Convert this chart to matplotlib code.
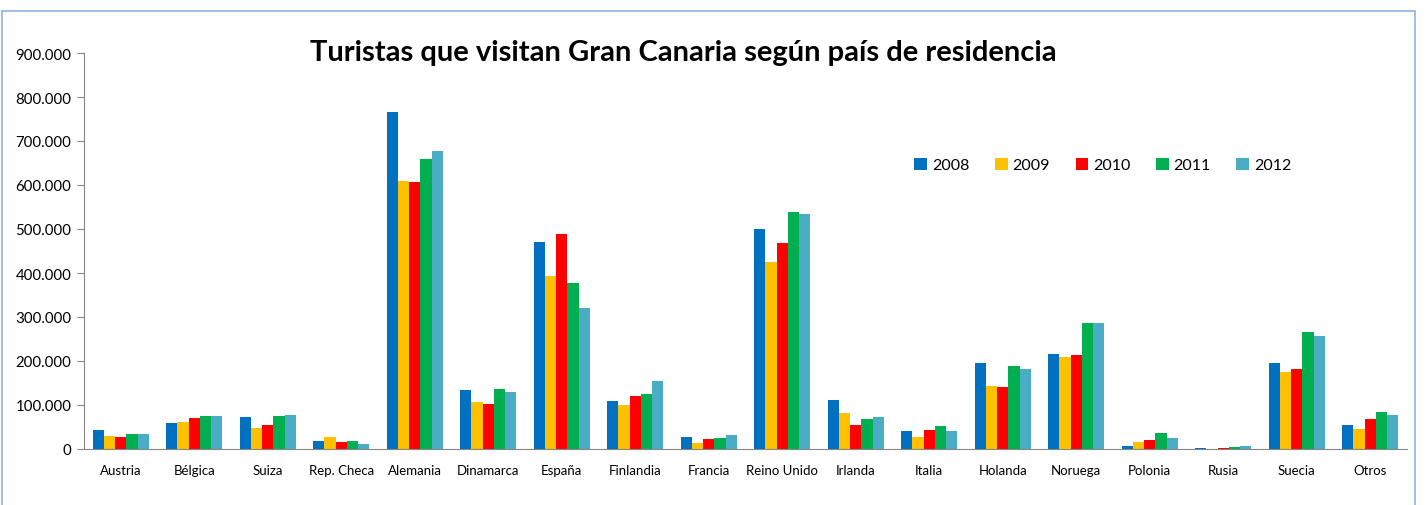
import numpy as np
import matplotlib.pyplot as plt
from matplotlib.ticker import FuncFormatter
from matplotlib.patches import Rectangle

paises = ["Austria", "Bélgica", "Suiza", "Rep. Checa", "Alemania", "Dinamarca",
          "España", "Finlandia", "Francia", "Reino Unido", "Irlanda", "Italia",
          "Holanda", "Noruega", "Polonia", "Rusia", "Suecia", "Otros"]
anios = ["2008", "2009", "2010", "2011", "2012"]

t2008 = [43000, 60000, 73000, 19000, 766000, 134000, 470000, 109000, 27000,
         501000, 111000, 42000, 196000, 216000, 6000, 2500, 196000, 55000]
t2009 = [30000, 61000, 47000, 27000, 609000, 107000, 393000, 101000, 14000,
         426000, 81000, 28000, 143000, 210000, 17000, 500, 174000, 45000]
t2010 = [27000, 71000, 55000, 16000, 607000, 103000, 489000, 120000, 23000,
         468000, 55000, 43000, 142000, 214000, 20000, 1500, 182000, 68000]
t2011 = [35000, 75000, 75000, 18000, 660000, 136000, 377000, 125000, 26000,
         539000, 68000, 53000, 189000, 286000, 36000, 5500, 267000, 83000]
t2012 = [35000, 75000, 77000, 12000, 678000, 130000, 320000, 155000, 31000,
         535000, 73000, 42000, 182000, 287000, 25000, 6500, 256000, 77000]

series = [t2008, t2009, t2010, t2011, t2012]
colores = ["#0070C0", "#FFC000", "#FF0000", "#00B050", "#4BACC6"]

plt.rcParams['font.family'] = ['Lato', 'DejaVu Sans']

fig = plt.figure(figsize=(14.27, 5.06), dpi=100)
W, H = 1427, 506
ax = fig.add_axes([84 / W, 1 - 450 / H, (1407 - 84) / W, (450 - 54) / H])

# marco del grafico
fig.patches.append(Rectangle((1.5 / W, -0.01), (1414.5 - 1.5) / W, 1 - 12 / H + 0.01,
                             transform=fig.transFigure, fill=False,
                             edgecolor="#8DB3E2", linewidth=1.2))

x = np.arange(len(paises))
bw = 0.153
for i, (anio, vals, c) in enumerate(zip(anios, series, colores)):
    ax.bar(x + (i - 2) * bw, vals, bw, color=c, label=anio, linewidth=0)

ax.set_xlim(-0.5, len(paises) - 0.5)
ax.set_ylim(0, 900000)
ax.set_yticks(np.arange(0, 900001, 100000))
ax.yaxis.set_major_formatter(FuncFormatter(lambda v, p: f"{int(v):,}".replace(",", ".")))
ax.set_xticks(x)
ax.set_xticklabels(paises, fontsize=9.5)
ax.tick_params(axis='x', length=0, pad=11)
ax.tick_params(axis='y', length=5, color="#868686", labelsize=10.8, pad=4)

for s in ["top", "right"]:
    ax.spines[s].set_visible(False)
ax.spines["left"].set_color("#868686")
ax.spines["bottom"].set_color("#868686")

fig.text(683 / W, 1 - 53 / H, "Turistas que visitan Gran Canaria según país de residencia",
         ha="center", va="center", fontsize=21, fontweight="bold")

ax.legend(loc="center left", bbox_to_anchor=((900 - 84) / 1323, (450 - 166) / 396),
          ncol=5, frameon=False, fontsize=11.5, handlelength=0.8, handleheight=0.8,
          columnspacing=1.6, handletextpad=0.3)

fig.savefig("out.png", dpi=100)
